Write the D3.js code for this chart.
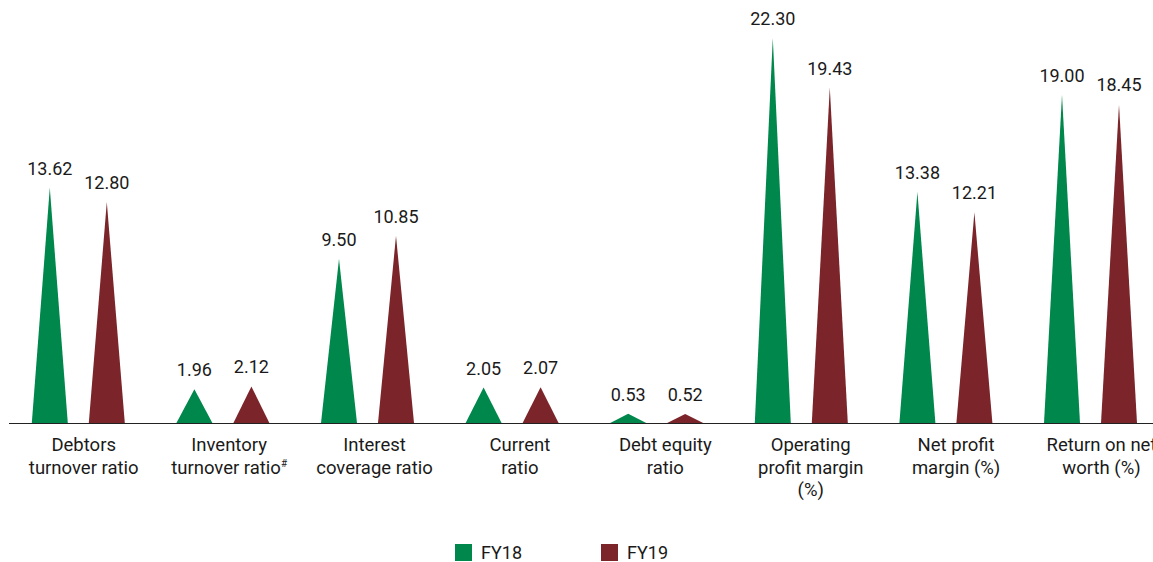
<!DOCTYPE html>
<html>
<head>
<meta charset="utf-8">
<script src="https://cdn.jsdelivr.net/npm/d3@7"></script>
<style>
  html, body { margin: 0; padding: 0; background: #fff; }
  svg { display: block; font-family: Roboto, "Noto Sans", sans-serif; }
</style>
</head>
<body>
<svg id="chart" width="1153" height="562"></svg>
<script>
// Financial ratios, FY18 vs FY19
const categories = [
  ["Debtors", "turnover ratio"],
  ["Inventory", "turnover ratio#"],
  ["Interest", "coverage ratio"],
  ["Current", "ratio"],
  ["Debt equity", "ratio"],
  ["Operating", "profit margin", "(%)"],
  ["Net profit", "margin (%)"],
  ["Return on net", "worth (%)"]
];
const seriesNames = ["FY18", "FY19"];
const fy18 = [13.62, 1.96, 9.50, 2.05, 0.53, 22.30, 13.38, 19.00];
const fy19 = [12.80, 2.12, 10.85, 2.07, 0.52, 19.43, 12.21, 18.45];
const colors = ["#00874b", "#7b2429"];

const svg = d3.select("#chart");
const W = 1153, H = 562;
const baseY = 423;

const keys = categories.map((c, i) => i);
const x = d3.scaleBand().domain(keys).range([6, 6 + 8 * 144.6]);
const xLabel = d3.scaleBand().domain(keys).range([11, 11 + 8 * 145.4]);
const xSeries = d3.scalePoint().domain(seriesNames).range([-28.5, 28.5]);
const y = d3.scaleLinear().domain([0, 22.30]).range([baseY, 38]);

const halfW = 18;
const data = [];
keys.forEach(i => {
  data.push({ i, s: "FY18", v: fy18[i], c: colors[0] });
  data.push({ i, s: "FY19", v: fy19[i], c: colors[1] });
});
const cx = d => x(d.i) + x.bandwidth() / 2 + xSeries(d.s);

// spikes
svg.append("g").selectAll("path").data(data).join("path")
  .attr("d", d => {
    const c = cx(d);
    return `M${c - halfW},${y(0)}L${c},${y(d.v)}L${c + halfW},${y(0)}Z`;
  })
  .attr("fill", d => d.c);

// value labels
svg.append("g").selectAll("text").data(data).join("text")
  .attr("x", d => cx(d))
  .attr("y", d => y(d.v) - 13)
  .attr("text-anchor", "middle")
  .attr("font-size", 18)
  .attr("fill", "#1a1a1a")
  .text(d => d.v.toFixed(2));

// baseline axis
const axis = d3.axisBottom(x).tickSize(0).tickFormat("");
svg.append("g").attr("transform", `translate(0,${baseY})`).call(axis)
  .call(g => g.select(".domain").attr("d", `M9,0.5H${W}`).attr("stroke", "#222").attr("stroke-width", 1.2));

// category labels
const lab = svg.append("g").selectAll("text").data(categories).join("text")
  .attr("text-anchor", "middle")
  .attr("font-size", 18.5)
  .attr("fill", "#1a1a1a")
  .attr("transform", (d, i) => `translate(${xLabel(i) + xLabel.bandwidth() / 2},451)`);
lab.each(function(lines) {
  const t = d3.select(this);
  lines.forEach((ln, k) => {
    const ts = t.append("tspan").attr("x", 0).attr("y", k * 22.5);
    if (ln.endsWith("#")) {
      ts.append("tspan").text(ln.slice(0, -1));
      ts.append("tspan").attr("font-size", 10).attr("dy", -7).text("#");
    } else {
      ts.text(ln);
    }
  });
});

// legend
const leg = svg.append("g").selectAll("g").data(seriesNames).join("g")
  .attr("transform", (d, i) => `translate(${455 + i * 146},544)`);
leg.append("rect").attr("width", 17).attr("height", 17).attr("fill", (d, i) => colors[i]);
leg.append("text").attr("x", 26).attr("y", 15).attr("font-size", 18).attr("fill", "#1a1a1a").text(d => d);
</script>
</body>
</html>
